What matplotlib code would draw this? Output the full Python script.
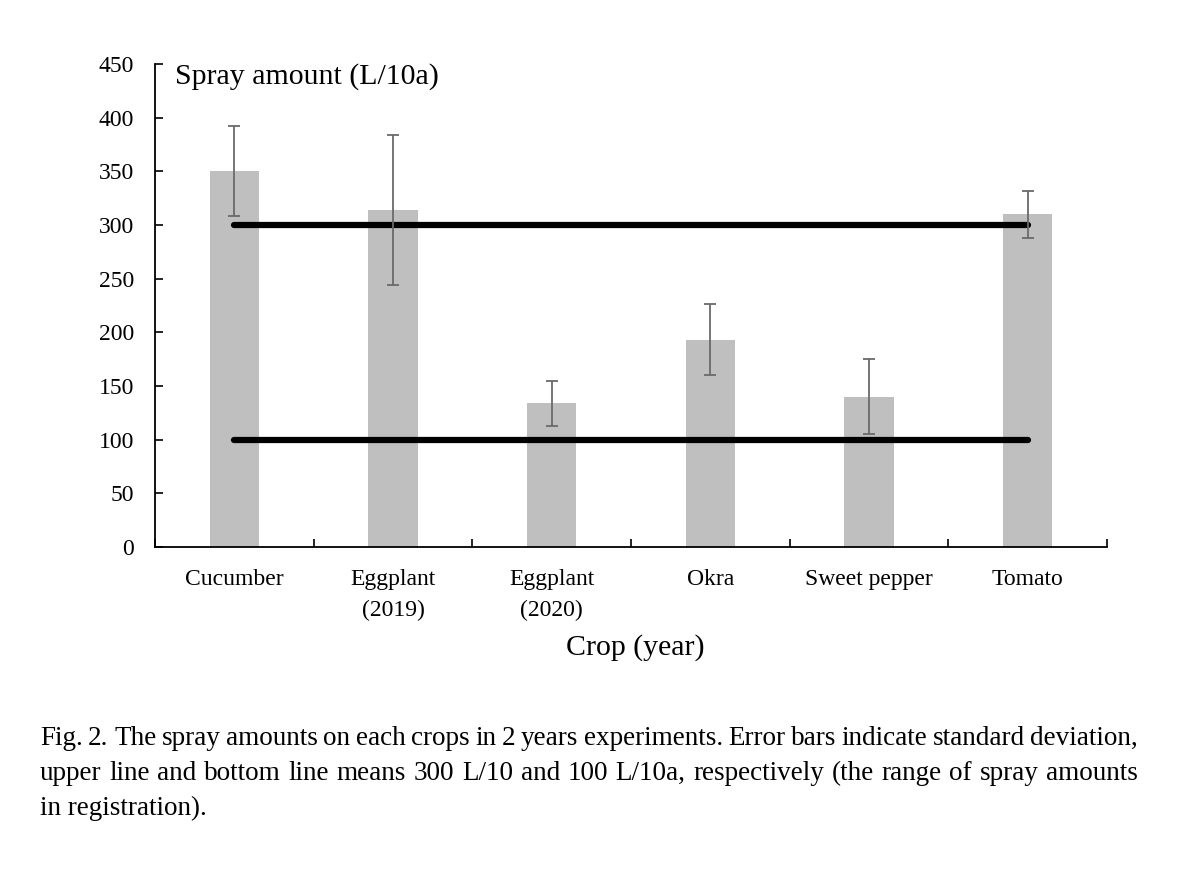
import matplotlib
matplotlib.use("Agg")
import matplotlib.pyplot as plt
import numpy as np

categories = ["Cucumber", "Eggplant\n(2019)", "Eggplant\n(2020)", "Okra", "Sweet pepper", "Tomato"]
spray_mean = [350, 314, 134, 193, 140, 310]
spray_sd = [42, 70, 21, 33, 35, 22]
range_upper = 300
range_lower = 100
yticks = [0, 50, 100, 150, 200, 250, 300, 350, 400, 450]

caption_lines = [
    "Fig. 2. The spray amounts on each crops in 2 years experiments. Error bars indicate standard deviation,",
    "upper line and bottom line means 300 L/10 and 100 L/10a, respectively (the range of spray amounts",
    "in registration).",
]

plt.rcParams['font.family'] = ['Liberation Serif', 'DejaVu Serif']

W, H = 1179, 869
fig = plt.figure(figsize=(W/100, H/100), dpi=100)
ax = fig.add_axes([155/W, 1-547/H, (1107-155)/W, (547-64)/H])

x = np.arange(len(categories))
ax.bar(x, spray_mean, width=0.31, color="#bfbfbf", zorder=1)
ax.errorbar(x, spray_mean, yerr=spray_sd, fmt="none", ecolor="#6a6a6a",
            elinewidth=1.3, capsize=4.5, capthick=1.3, zorder=3)
ax.plot([x[0], x[-1]], [range_upper, range_upper], color="black", lw=4.5,
        solid_capstyle="round", zorder=2)
ax.plot([x[0], x[-1]], [range_lower, range_lower], color="black", lw=4.5,
        solid_capstyle="round", zorder=2)

ax.set_xlim(-0.5, len(categories) - 0.5)
ax.set_ylim(0, 450)
ax.set_yticks(yticks)
ax.set_yticklabels([str(v) for v in yticks], fontsize=17)
ax.tick_params(axis="y", direction="in", length=6, width=1.2, pad=15)

ax.set_xticks(x)
ax.set_xticklabels(categories, fontsize=17, linespacing=1.6, va="top")
ax.tick_params(axis="x", which="major", length=0, pad=16)
ax.set_xticks(np.arange(-0.5, len(categories)), minor=True)
ax.tick_params(axis="x", which="minor", direction="in", length=6, width=1.2)

for s in ["top", "right"]:
    ax.spines[s].set_visible(False)
for s in ["left", "bottom"]:
    ax.spines[s].set_linewidth(1.3)

ax.text(0.021, 0.975, "Spray amount (L/10a)", transform=ax.transAxes,
        fontsize=21.5, ha="left", va="center")
fig.text(635/W, 1-648/H, "Crop (year)", fontsize=21.5, ha="center", va="center")

# caption, justified between x=40 and x=1138 (last line left-aligned)
fig.canvas.draw()
renderer = fig.canvas.get_renderer()
left_px, right_px = 40, 1138
cap_size = 19.5
for i, line in enumerate(caption_lines):
    ypos = 1 - (745 + 35*i)/H
    words = line.split(" ")
    if i == len(caption_lines) - 1:
        fig.text(left_px/W, ypos, line, fontsize=cap_size, ha="left", va="baseline")
        continue
    texts = [fig.text(0, ypos, w, fontsize=cap_size, ha="left", va="baseline") for w in words]
    widths = [t.get_window_extent(renderer).width for t in texts]
    gap = (right_px - left_px - sum(widths)) / (len(words) - 1)
    xpos = left_px
    for t, wd in zip(texts, widths):
        t.set_x(xpos/W)
        xpos += wd + gap

fig.savefig("out.png", dpi=100)
